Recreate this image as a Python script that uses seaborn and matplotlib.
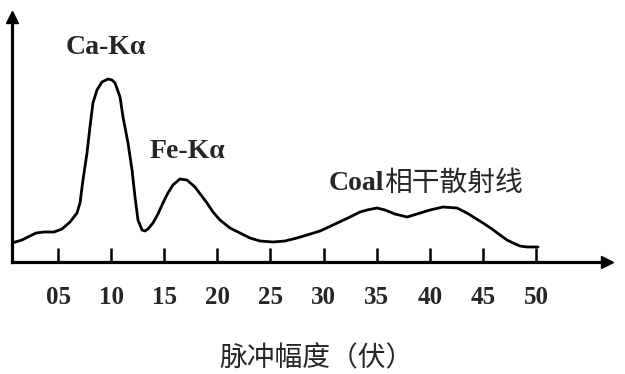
import matplotlib
matplotlib.use("Agg")
import matplotlib.pyplot as plt
import seaborn as sns
import pandas as pd

# pulse amplitude (V) and relative counts
pulse = [0.67, 1.61, 2.36, 2.93, 3.68, 4.62, 5.38, 6.13, 6.79, 7.07, 7.35, 7.73,
         8.01, 8.29, 8.67, 9.14, 9.71, 10.08, 10.37, 10.84, 11.12, 11.59, 11.97,
         12.25, 12.53, 12.91, 13.19, 13.47, 13.94, 14.41, 14.88, 15.35, 15.82,
         16.48, 17.14, 17.89, 18.46, 19.03, 19.59, 20.25, 21.19, 22.13, 23.07,
         24.02, 25.24, 26.37, 27.50, 28.44, 29.67, 30.89, 32.49, 33.43, 34.09,
         35.03, 35.78, 36.72, 37.86, 38.80, 40.02, 41.24, 42.56, 43.50, 44.25,
         45.01, 45.86, 46.61, 47.27, 47.84, 48.49, 49.15, 50.19]
counts = [19, 22, 26, 29, 30, 30, 33, 40, 49, 59, 82, 109,
          135, 159, 172, 180, 183, 182, 179, 165, 145, 119, 92,
          65, 42, 32, 31, 33, 39, 48, 59, 69, 77,
          83, 82, 75, 67, 59, 50, 42, 34, 29, 24,
          21, 20, 21, 24, 27, 31, 37, 45, 50, 52,
          54, 52, 48, 45, 48, 52, 55, 54, 49, 44,
          39, 33, 27, 22, 19, 16, 15, 15]

tick_values = [5, 10, 15, 20, 25, 30, 35, 40, 45, 50]
tick_labels = ["05", "10", "15", "20", "25", "30", "35", "40", "45", "50"]

peak_labels = ["Ca-Kα", "Fe-Kα"]
peak_x = [9.5, 17.2]
peak_y = [215, 111]
coal_latin = "Coal"
coal_cjk = "相干散射线"
xlabel = "脉冲幅度（伏）"

sns.set_theme(style="white")
plt.rcParams["font.family"] = ["Liberation Serif", "Noto Sans CJK SC", "DejaVu Sans"]

W, H = 625, 374
fig = plt.figure(figsize=(W / 100, H / 100), dpi=100)
left_px, right_px, top_px, bottom_px = 12, 607, 17, 262
ax = fig.add_axes([left_px / W, (H - bottom_px) / H,
                   (right_px - left_px) / W, (bottom_px - top_px) / H])

df = pd.DataFrame({"pulse": pulse, "counts": counts})
sns.lineplot(data=df, x="pulse", y="counts", sort=False, estimator=None,
             color="black", linewidth=2.0, ax=ax)
for ln in ax.lines:
    ln.set_solid_joinstyle("round")
    ln.set_solid_capstyle("round")

px_per_unit = (536 - 58) / 45.0
x0_px = 58 - 5 * px_per_unit
ax.set_xlim((left_px - x0_px) / px_per_unit, (right_px - x0_px) / px_per_unit)
ax.set_ylim(0, bottom_px - top_px)
ax.set_ylabel("")

for s in ["top", "right"]:
    ax.spines[s].set_visible(False)
for s in ["left", "bottom"]:
    ax.spines[s].set_linewidth(2.3)
    ax.spines[s].set_color("black")

ax.set_xticks(tick_values)
ax.set_xticklabels(tick_labels, fontsize=18, fontweight="bold",
                   family=["Liberation Serif"])
ax.set_yticks([])
ax.tick_params(axis="x", direction="in", length=10, width=1.8, color="black",
               pad=17, bottom=True)

# arrow heads
ax.plot([1], [0], marker=">", markersize=9, color="black",
        transform=ax.transAxes, clip_on=False)
ax.plot([0], [1], marker="^", markersize=9, color="black",
        transform=ax.transAxes, clip_on=False)

ax.set_xlabel(xlabel, fontsize=20, family=["Noto Sans CJK SC"], va="center")
ax.xaxis.set_label_coords((316 - left_px) / (right_px - left_px),
                          (bottom_px - 358) / (bottom_px - top_px))

for lab, x, y in zip(peak_labels, peak_x, peak_y):
    ax.text(x, y, lab, fontsize=20, fontweight="bold",
            family=["Liberation Serif", "DejaVu Serif"],
            ha="center", va="center")

ax.text(35.7, 79, coal_latin, fontsize=20, fontweight="bold",
        family=["Liberation Serif"], ha="right", va="center")
ax.text(35.7, 79, coal_cjk, fontsize=20, fontweight="medium",
        family=["Noto Sans CJK SC"], ha="left", va="center")

fig.savefig("out.png", dpi=100, facecolor="white")
